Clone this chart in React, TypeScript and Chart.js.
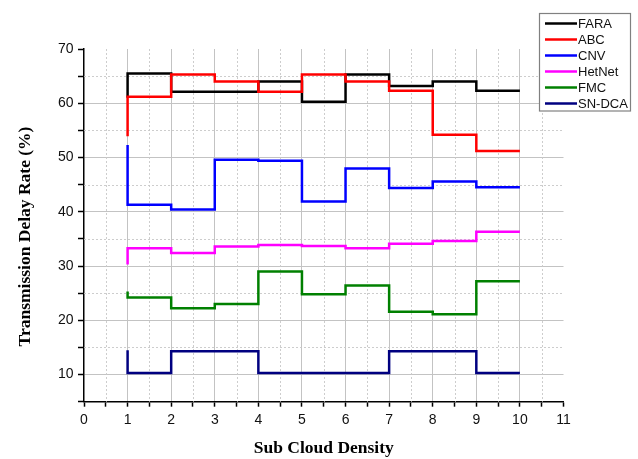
import React, { useEffect, useRef } from 'react';
import { Chart, registerables } from 'chart.js';

Chart.register(...registerables);

const xValues = [1, 2, 3, 4, 5, 6, 7, 8, 9, 10];
const seriesNames = ['FARA', 'ABC', 'CNV', 'HetNet', 'FMC', 'SN-DCA'];
const seriesColors = ['#000000', '#ff0000', '#0000ff', '#ff00ff', '#008000', '#000080'];
const fara = [61.0, 65.5, 62.1, 62.1, 64.0, 60.3, 65.3, 63.2, 64.0, 62.3];
const abc = [53.9, 61.2, 65.3, 64.0, 62.1, 65.3, 64.0, 62.3, 54.2, 51.2];
const cnv = [52.3, 41.3, 40.4, 49.6, 49.4, 41.9, 48.0, 44.4, 45.6, 44.5];
const hetnet = [30.3, 33.3, 32.4, 33.6, 33.9, 33.7, 33.3, 34.1, 34.6, 36.3];
const fmc = [25.3, 24.2, 22.2, 23.0, 29.0, 24.8, 26.4, 21.6, 21.1, 27.2];
const sndca = [14.5, 10.3, 14.3, 14.3, 10.3, 10.3, 10.3, 14.3, 14.3, 10.3];

const xTitle = 'Sub Cloud Density';
const yTitle = 'Transmission Delay Rate (%)';

const xTickValues = [0, 0.5, 1, 1.5, 2, 2.5, 3, 3.5, 4, 4.5, 5, 5.5, 6, 6.5, 7, 7.5, 8, 8.5, 9, 9.5, 10, 10.5, 11];
const yTickValues = [5, 10, 15, 20, 25, 30, 35, 40, 45, 50, 55, 60, 65, 70];
const xMajorGrid = [1, 2, 3, 4, 5, 6, 7, 8, 9, 10];
const yMajorGrid = [10, 20, 30, 40, 50, 60];
const xMinorGrid = [0.5, 1.5, 2.5, 3.5, 4.5, 5.5, 6.5, 7.5, 8.5, 9.5, 10.5];
const yMinorGrid = [15, 25, 35, 45, 55, 65];

const allSeries = [fara, abc, cnv, hetnet, fmc, sndca];
const titleFont = 'bold 17.5px "Liberation Serif", "Times New Roman", serif';

const minorGridPlugin = {
  id: 'minorGrid',
  beforeDatasetsDraw(chart: any) {
    const { ctx, chartArea, scales } = chart;
    ctx.save();
    ctx.strokeStyle = 'rgba(200,200,200,0.9)';
    ctx.lineWidth = 1;
    ctx.setLineDash([2, 2]);
    xMinorGrid.forEach((v) => {
      const px = Math.round(scales.x.getPixelForValue(v)) + 0.5;
      ctx.beginPath();
      ctx.moveTo(px, chartArea.top);
      ctx.lineTo(px, chartArea.bottom);
      ctx.stroke();
    });
    yMinorGrid.forEach((v) => {
      const py = Math.round(scales.y.getPixelForValue(v)) + 0.5;
      ctx.beginPath();
      ctx.moveTo(chartArea.left, py);
      ctx.lineTo(chartArea.right, py);
      ctx.stroke();
    });
    ctx.restore();
  },
};

const yTitlePlugin = {
  id: 'yTitle',
  afterDraw(chart: any) {
    const { ctx } = chart;
    ctx.save();
    ctx.translate(25, 236.5);
    ctx.rotate(-Math.PI / 2);
    ctx.font = titleFont;
    ctx.fillStyle = '#000000';
    ctx.textAlign = 'center';
    ctx.textBaseline = 'middle';
    ctx.fillText(yTitle, 0, 0);
    ctx.restore();
  },
};

const legendPlugin = {
  id: 'boxLegend',
  afterDraw(chart: any) {
    const { ctx } = chart;
    ctx.save();
    const bx = 539.5, by = 13.5, bw = 91, bh = 97.5;
    ctx.fillStyle = '#ffffff';
    ctx.fillRect(bx, by, bw, bh);
    ctx.strokeStyle = '#808080';
    ctx.lineWidth = 1.2;
    ctx.strokeRect(bx, by, bw, bh);
    ctx.font = '13px "Liberation Sans", Arial, sans-serif';
    ctx.textBaseline = 'middle';
    ctx.textAlign = 'left';
    seriesNames.forEach((name, i) => {
      const y = 23.5 + i * 16;
      ctx.strokeStyle = seriesColors[i];
      ctx.lineWidth = 2.5;
      ctx.beginPath();
      ctx.moveTo(545, y);
      ctx.lineTo(577, y);
      ctx.stroke();
      ctx.fillStyle = '#111111';
      ctx.fillText(name, 578, y + 0.5);
    });
    ctx.restore();
  },
};

export default function App() {
  const ref = useRef<HTMLCanvasElement | null>(null);

  useEffect(() => {
    if (!ref.current) return;
    const datasets = seriesNames.map((name, i) => ({
      label: name,
      data: xValues.map((x, j) => ({ x, y: allSeries[i][j] })),
      borderColor: seriesColors[i],
      backgroundColor: seriesColors[i],
      borderWidth: 2.5,
      pointRadius: 0,
      stepped: 'after' as const,
      fill: false,
      order: 5 - i,
      borderJoinStyle: 'miter' as const,
    }));

    const chart = new Chart(ref.current, {
      type: 'line',
      data: { datasets },
      options: {
        animation: false,
        responsive: false,
        devicePixelRatio: 1,
        layout: { padding: { top: 49, right: 74.5, left: 0, bottom: 0 } },
        plugins: {
          legend: { display: false },
          tooltip: { enabled: false },
        },
        scales: {
          x: {
            type: 'linear',
            min: 0,
            max: 11,
            afterBuildTicks: (scale: any) => {
              scale.ticks = xTickValues.map((v) => ({ value: v }));
            },
            afterFit: (scale: any) => {
              scale.height = 57.3;
            },
            ticks: {
              autoSkip: false,
              maxRotation: 0,
              padding: 5,
              color: '#111111',
              font: { family: '"Liberation Sans", Arial, sans-serif', size: 14 },
              callback: (v: any) => (Number.isInteger(Number(v)) ? String(v) : ''),
            },
            grid: {
              color: (ctx: any) =>
                ctx.tick && xMajorGrid.includes(ctx.tick.value) ? 'rgba(195,195,195,1)' : 'rgba(0,0,0,0)',
              lineWidth: 1,
              tickColor: '#000000',
              tickLength: 5,
              tickWidth: 1.5,
            },
            border: { color: '#000000', width: 1.5 },
            title: {
              display: true,
              text: xTitle,
              color: '#000000',
              font: { family: '"Liberation Serif", "Times New Roman", serif', size: 17.5, weight: 'bold' },
              padding: { top: 0, bottom: 0.5 },
            },
          },
          y: {
            type: 'linear',
            min: 5,
            max: 70,
            afterBuildTicks: (scale: any) => {
              scale.ticks = yTickValues.map((v) => ({ value: v }));
            },
            afterFit: (scale: any) => {
              scale.width = 84;
            },
            ticks: {
              autoSkip: false,
              padding: 4.5,
              color: '#111111',
              font: { family: '"Liberation Sans", Arial, sans-serif', size: 14 },
              callback: (v: any) => (Number(v) % 10 === 0 ? String(v) : ''),
            },
            grid: {
              color: (ctx: any) =>
                ctx.tick && yMajorGrid.includes(ctx.tick.value) ? 'rgba(195,195,195,1)' : 'rgba(0,0,0,0)',
              lineWidth: 1,
              tickColor: '#000000',
              tickLength: 6,
              tickWidth: 1.5,
            },
            border: { color: '#000000', width: 1.5 },
            title: { display: false },
          },
        },
      },
      plugins: [minorGridPlugin, yTitlePlugin, legendPlugin],
    });
    return () => chart.destroy();
  }, []);

  return (
    <div style={{ position: 'absolute', left: 0, top: 0, width: 638, height: 459, background: '#ffffff' }}>
      <canvas ref={ref} width={638} height={459} style={{ width: 638, height: 459, display: 'block' }} />
    </div>
  );
}
